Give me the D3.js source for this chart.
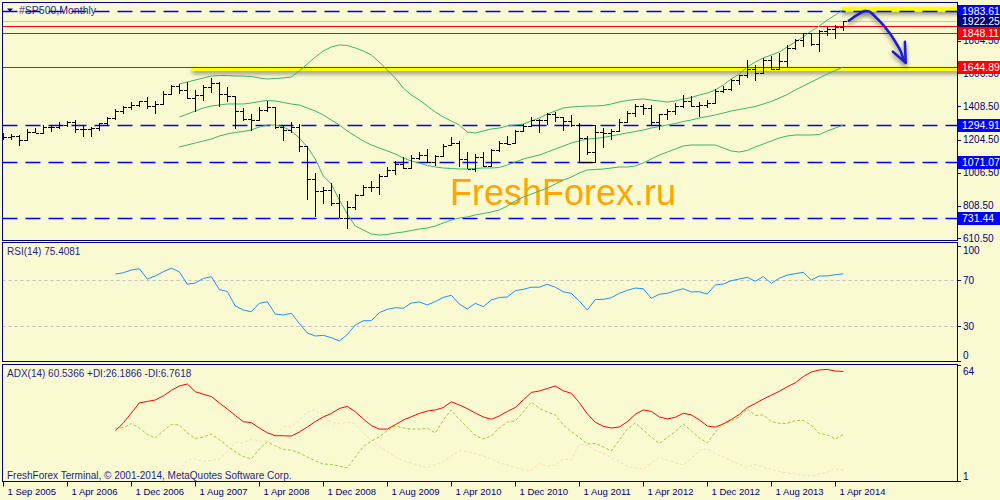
<!DOCTYPE html>
<html><head><meta charset="utf-8">
<script src="https://cdn.jsdelivr.net/npm/d3@7"></script>
<style>
body{margin:0;background:#FAFAD2;}
svg{display:block;}
text{font-family:"Liberation Sans",Arial,sans-serif;}
</style></head><body>
<svg id="c" width="1000" height="500"></svg>
<script>
// ---------------- DATA ----------------
const title = "#SP500,Monthly";
// monthly bars, index 0 = Aug 2005 ... index 105 = May 2014
const opens  = [1234.2,1220.3,1228.8,1207.0,1249.5,1248.3,1280.1,1280.7,1294.9,1310.6,1270.1,1270.2,1276.7,1303.8,1335.9,1377.9,1400.6,1418.3,1438.2,1406.8,1420.9,1482.4,1530.6,1503.4,1455.3,1474.0,1526.8,1549.4,1481.1,1468.4,1378.6,1330.6,1326.4,1385.6,1400.4,1280.0,1267.4,1282.8,1166.4,968.8,896.2,903.3,825.9,735.1,797.9,872.8,919.1,919.3,987.5,1020.6,1057.1,1036.2,1095.6,1115.1,1073.9,1104.5,1171.2,1186.7,1089.4,1030.7,1101.6,1049.3,1141.2,1183.3,1186.6,1257.6,1286.1,1327.2,1325.8,1363.6,1345.2,1320.6,1292.3,1218.9,1131.4,1253.3,1247.0,1258.9,1312.4,1365.7,1408.5,1397.9,1310.3,1362.2,1379.3,1406.6,1440.7,1412.2,1416.2,1426.2,1498.1,1514.7,1569.2,1597.6,1630.7,1606.3,1685.7,1633.0,1681.6,1756.5,1805.8,1848.4,1782.6,1859.5,1872.3,1884.0];
const highs  = [1245.9,1243.1,1233.3,1270.6,1275.8,1294.9,1297.6,1310.9,1318.2,1326.7,1290.7,1280.4,1306.7,1340.3,1389.5,1407.9,1431.8,1441.6,1461.6,1438.9,1498.0,1535.6,1540.6,1555.9,1503.9,1538.7,1576.1,1552.8,1523.6,1471.8,1396.0,1359.7,1404.0,1440.2,1404.1,1292.2,1313.2,1303.0,1167.0,1007.5,919.0,943.9,877.9,833.0,875.4,930.2,956.2,996.7,1039.5,1080.2,1101.4,1113.7,1130.4,1150.5,1112.4,1180.2,1219.8,1200.0,1131.2,1121.0,1129.2,1150.0,1196.1,1227.1,1262.6,1302.7,1344.1,1332.3,1364.6,1370.6,1345.2,1356.5,1307.4,1229.3,1292.7,1277.6,1269.4,1333.5,1378.0,1419.2,1422.4,1415.3,1363.5,1391.7,1426.7,1474.5,1471.0,1434.3,1448.0,1509.9,1530.9,1570.3,1597.6,1687.2,1654.2,1698.8,1709.7,1729.9,1775.2,1813.6,1849.4,1850.8,1867.9,1884.0,1897.3,1924.0];
const lows   = [1201.1,1205.4,1168.2,1201.1,1246.6,1245.7,1253.6,1268.0,1280.7,1245.3,1219.3,1224.5,1261.3,1290.9,1327.1,1360.9,1385.9,1404.0,1389.4,1364.0,1416.4,1476.7,1484.2,1454.3,1370.6,1439.3,1489.6,1406.1,1435.7,1270.1,1316.8,1257.0,1324.4,1373.1,1272.0,1200.4,1248.6,1133.5,839.8,741.0,815.7,804.2,734.5,666.8,783.9,866.1,888.9,869.3,978.5,992.0,1029.4,1029.4,1085.9,1071.6,1044.5,1101.4,1170.7,1040.8,1028.3,1010.9,1039.7,1048.1,1131.9,1173.0,1186.6,1257.6,1282.9,1249.1,1294.7,1311.8,1258.1,1282.9,1101.5,1114.2,1074.8,1158.7,1202.4,1258.9,1312.4,1340.0,1357.4,1292.0,1266.7,1325.4,1354.7,1396.6,1403.3,1343.4,1398.1,1426.2,1485.0,1501.5,1536.0,1581.3,1560.3,1604.6,1627.5,1633.4,1646.5,1746.2,1768.0,1770.4,1737.9,1834.4,1814.4,1859.8];
const closes = [1220.3,1228.8,1207.0,1249.5,1248.3,1280.1,1280.7,1294.9,1310.6,1270.1,1270.2,1276.7,1303.8,1335.9,1377.9,1400.6,1418.3,1438.2,1406.8,1420.9,1482.4,1530.6,1503.4,1455.3,1474.0,1526.8,1549.4,1481.1,1468.4,1378.6,1330.6,1322.7,1385.6,1400.4,1280.0,1267.4,1282.8,1166.4,968.8,896.2,903.3,825.9,735.1,797.9,872.8,919.1,919.3,987.5,1020.6,1057.1,1036.2,1095.6,1115.1,1073.9,1104.5,1169.4,1186.7,1089.4,1030.7,1101.6,1049.3,1141.2,1183.3,1180.6,1257.6,1286.1,1327.2,1325.8,1363.6,1345.2,1320.6,1292.3,1218.9,1131.4,1253.3,1247.0,1257.6,1312.4,1365.7,1408.5,1397.9,1310.3,1362.2,1379.3,1406.6,1440.7,1412.2,1416.2,1426.2,1498.1,1514.7,1569.2,1597.6,1630.7,1606.3,1685.7,1633.0,1681.6,1756.5,1805.8,1848.4,1782.6,1859.5,1872.3,1884.0,1922.25];

// Bollinger bands, first value at bar 22
const bbStart = 22;
const bbUpper  = [1542.1,1554.1,1566.2,1578.3,1590.4,1593.4,1593.4,1590.4,1590.4,1587.3,1578.3,1572.3,1575.3,1578.3,1584.4,1620.5,1662.8,1705.0,1741.3,1765.4,1777.5,1774.5,1759.4,1741.3,1717.1,1674.9,1626.6,1578.3,1518.0,1475.7,1445.5,1409.3,1373.1,1342.9,1318.7,1294.6,1252.4,1246.3,1258.4,1270.5,1276.5,1288.6,1294.6,1300.6,1318.7,1336.9,1361.0,1379.1,1397.2,1403.2,1406.3,1409.3,1409.3,1412.3,1421.4,1433.4,1442.5,1448.5,1451.5,1445.5,1439.5,1433.4,1439.5,1451.5,1460.6,1475.7,1487.8,1505.9,1536.0,1572.3,1602.4,1644.7,1674.9,1699.0,1717.1,1735.2,1765.4,1795.6,1825.8,1862.0,1892.2,1928.4,1958.6,1988.7];
const bbMiddle = [1342.9,1361.0,1379.1,1397.2,1409.3,1415.3,1421.4,1421.4,1421.4,1427.4,1436.4,1442.5,1439.5,1430.4,1421.4,1415.3,1397.2,1379.1,1355.0,1324.8,1294.6,1258.4,1228.2,1198.0,1173.9,1155.8,1137.7,1119.6,1095.4,1077.3,1065.2,1050.2,1041.1,1035.1,1032.0,1029.0,1029.0,1032.0,1035.1,1035.1,1038.1,1053.2,1071.3,1089.4,1101.4,1113.5,1131.6,1149.7,1167.8,1185.9,1198.0,1210.1,1213.1,1219.1,1228.2,1237.3,1246.3,1255.4,1264.4,1276.5,1285.5,1294.6,1303.7,1315.7,1324.8,1336.9,1345.9,1355.0,1367.0,1379.1,1388.2,1397.2,1406.3,1421.4,1436.4,1457.6,1478.7,1505.9,1530.0,1554.1,1578.3,1602.4,1623.6,1644.7];
const bbLower  = [1161.8,1173.9,1186.0,1198.0,1210.1,1228.2,1240.3,1249.3,1255.4,1264.4,1282.5,1294.6,1294.6,1282.5,1258.4,1216.1,1161.8,1089.4,986.8,938.5,841.9,757.4,685.0,660.8,636.7,630.6,633.7,642.7,648.8,657.8,666.8,672.9,685.0,703.1,721.2,733.3,739.3,751.4,760.4,769.5,781.5,805.7,835.9,860.0,878.1,896.2,914.3,938.5,962.6,980.7,1004.9,1023.0,1026.0,1029.0,1035.1,1041.1,1041.1,1047.1,1065.2,1089.4,1113.5,1131.6,1149.7,1167.8,1173.9,1173.9,1173.9,1173.9,1155.8,1137.7,1131.6,1140.7,1161.8,1179.9,1198.0,1216.1,1228.2,1234.2,1234.2,1234.2,1237.3,1258.4,1276.5,1294.6];

// RSI(14), first value at bar 14
const rsiStart = 14;
const rsiValues = [75.2,76.3,78.7,79.8,70.9,73.5,77.2,80.2,77.2,66.3,67.4,71.3,72.9,61.7,60.0,47.4,43.9,42.4,49.7,51.1,40.4,39.6,41.0,32.3,23.9,21.3,21.9,19.8,17.0,22.6,30.9,34.6,34.6,41.6,44.5,45.9,45.4,50.0,50.9,48.3,51.3,54.8,56.7,49.1,44.8,49.7,46.8,52.6,54.8,55.2,60.7,61.9,63.7,63.7,66.3,63.7,59.8,58.4,51.7,43.9,53.0,53.2,54.6,58.4,61.0,63.0,62.4,54.1,57.6,58.4,60.7,62.4,59.6,59.8,57.8,65.7,66.5,69.4,70.9,72.3,68.9,72.9,67.1,71.5,74.3,75.5,76.7,70.0,73.5,73.5,74.6,75.4];
const rsiLevels = [70, 30];
const rsiTicks = [100, 70, 30, 0];

// ADX(14), first value at bar 14
const adxStart = 14;
const adxValues = [28.2,32.5,37.9,43.4,44.2,45.0,47.2,50.2,52.6,53.7,49.5,48.1,46.9,43.4,40.1,36.6,33.2,32.7,29.8,27.2,25.6,25.6,25.4,27.6,30.3,33.3,35.8,37.7,40.4,41.5,38.6,34.7,31.1,29.2,29.2,31.6,34.1,35.9,37.7,39.0,39.6,40.9,44.0,42.3,40.3,37.9,35.8,34.5,36.3,38.8,40.9,45.0,49.1,49.9,51.2,52.6,50.0,48.6,43.6,37.5,32.9,30.7,29.8,30.3,33.2,37.2,39.6,38.8,35.8,34.7,35.6,37.8,36.9,34.2,30.9,30.2,32.0,34.4,37.2,40.9,43.1,45.5,47.6,49.7,52.2,54.3,57.7,60.2,61.3,61.6,60.7,60.5];
const plusDI   = [29.6,30.0,32.2,29.8,26.3,24.4,28.3,31.7,31.4,27.1,24.1,24.9,26.5,23.5,20.0,16.8,14.3,13.0,18.4,22.2,20.0,18.1,17.8,16.2,14.0,11.9,10.2,10.0,9.1,8.1,14.0,19.7,22.7,24.9,28.4,30.9,29.8,29.2,29.2,29.6,27.1,34.1,39.6,34.4,30.1,25.7,23.8,25.4,29.8,33.0,33.6,38.5,43.9,40.4,38.5,36.9,31.4,27.9,24.6,21.1,21.4,19.5,17.3,23.3,29.2,32.5,28.7,24.9,21.4,24.6,27.9,32.0,28.2,24.4,21.6,27.6,32.0,33.6,35.8,40.1,36.6,36.9,33.3,32.3,32.3,33.9,33.9,31.4,26.8,26.0,23.8,26.2];
const minusDI  = [5.3,5.3,4.8,4.8,5.9,6.4,5.9,4.8,6.4,12.4,13.0,11.6,12.1,13.0,16.8,22.2,21.6,23.8,22.7,22.7,25.4,30.6,30.3,34.1,38.5,39.6,36.3,33.0,32.0,33.0,32.0,27.1,23.3,20.0,16.8,14.0,11.9,10.8,9.4,8.3,10.0,11.6,14.6,17.5,17.0,15.9,14.6,13.2,10.8,9.7,8.3,7.2,6.7,10.5,8.9,9.7,13.0,12.4,21.1,20.3,17.8,15.9,13.8,11.6,8.9,8.1,7.4,10.8,13.8,12.4,11.0,9.7,13.0,17.8,18.4,15.9,14.0,11.9,10.2,8.3,10.0,8.6,7.2,6.2,5.3,4.8,4.3,3.7,4.8,5.6,7.8,6.8];
const adxTicks = [64, 1];

// price axis
const priceTicks = [1804.5, 1606.5, 1408.5, 1204.5, 1006.5, 808.5, 610.5];
const blueLevels = [1983.61, 1294.91, 1071.07, 731.44];
const redLevels  = [1891.60, 1848.11, 1644.89];
const bidPrice   = 1922.25;
// time axis labels: [bar index, text]
const timeTicks = [[0,"1 Sep 2005"],[8,"1 Apr 2006"],[16,"1 Dec 2006"],[24,"1 Aug 2007"],[32,"1 Apr 2008"],[40,"1 Dec 2008"],[48,"1 Aug 2009"],[56,"1 Apr 2010"],[64,"1 Dec 2010"],[72,"1 Aug 2011"],[80,"1 Apr 2012"],[88,"1 Dec 2012"],[96,"1 Aug 2013"],[104,"1 Apr 2014"]];

// analyst drawings in chart coordinates [bar, price]
const supportBand = {from: 23.6, to: 125, price: 1644.89};
const topBand = {from: 104.8, to: 125, price: 1995};
const boxRect = {from: 72, to: 74, top: 1294.91, bottom: 1071.07};
const arrowPath = [[105.7,1924],[106.7,1958],[107.7,1982],[108.3,1978],[109.2,1938],[110.0,1898],[110.8,1848],[111.5,1797],[112.1,1747],[112.5,1697],[112.8,1671]];
const arrowHead = [[111.2,1737],[112.8,1671],[112.7,1797]];

// ---------------- DRAW ----------------
const svg = d3.select("#c");
const BG = "#FAFAD2", NAVY = "#000080";
const L = 2.5, R = 957.5;
const P = {main:[2.5,240.5], rsi:[242.5,361.5], adx:[364.5,481.5]};

const x = d3.scaleLinear().domain([0,105]).range([3.3, 843.3]);
const y = d3.scaleLinear().domain([594.4, 2031.0]).range([241, 3]);
const yR = d3.scaleLinear().domain([0,100]).range([360.5,245.5]);
const yA = d3.scaleLinear().domain([1,64]).range([481,365]);

svg.append("rect").attr("width",1000).attr("height",500).attr("fill",BG);
const defs = svg.append("defs");
Object.entries(P).forEach(([k,[t,b]])=>{
  defs.append("clipPath").attr("id","clip-"+k).append("rect")
    .attr("x",L+0.5).attr("y",t+0.5).attr("width",R-L-1).attr("height",b-t-1);
});
const sh = defs.append("filter").attr("id","shadow").attr("filterUnits","userSpaceOnUse")
  .attr("x",0).attr("y",0).attr("width",1000).attr("height",260);
sh.append("feGaussianBlur").attr("in","SourceAlpha").attr("stdDeviation",2).attr("result","b");
sh.append("feOffset").attr("in","b").attr("dy",3).attr("result","o");
sh.append("feComponentTransfer").attr("in","o").attr("result","s")
  .append("feFuncA").attr("type","linear").attr("slope",0.45);
const fm = sh.append("feMerge");
fm.append("feMergeNode").attr("in","s");
fm.append("feMergeNode").attr("in","SourceGraphic");

// ---- main panel ----
const gm = svg.append("g").attr("clip-path","url(#clip-main)");

// watermark
gm.append("text").attr("x",450).attr("y",205).text("FreshForex.ru")
  .attr("font-size",36).attr("fill","#FFA500");

// yellow highlight bands (under lines)
gm.append("line").attr("x1",x(supportBand.from)).attr("x2",x(supportBand.to))
  .attr("y1",y(supportBand.price)+1.7).attr("y2",y(supportBand.price)+1.7)
  .attr("stroke","#FFFF00").attr("stroke-width",4).attr("filter","url(#shadow)");
gm.append("line").attr("x1",x(topBand.from)).attr("x2",x(topBand.to))
  .attr("y1",y(topBand.price)).attr("y2",y(topBand.price))
  .attr("stroke","#FFFF00").attr("stroke-width",4.5).attr("filter","url(#shadow)");

// horizontal levels
gm.selectAll(".bl").data(blueLevels).join("line")
  .attr("x1",L).attr("x2",R).attr("y1",d=>Math.round(y(d))+0.5).attr("y2",d=>Math.round(y(d))+0.5)
  .attr("stroke","#0000FF").attr("stroke-width",1.3).attr("stroke-dasharray","15,8");
gm.append("line").attr("x1",L).attr("x2",R)
  .attr("y1",Math.round(y(bidPrice))+0.5).attr("y2",Math.round(y(bidPrice))+0.5)
  .attr("stroke","#C8C8C8").attr("stroke-width",1);
gm.selectAll(".rl").data(redLevels).join("line")
  .attr("x1",L).attr("x2",R).attr("y1",d=>Math.round(y(d))+0.5).attr("y2",d=>Math.round(y(d))+0.5)
  .attr("stroke","#FF0000").attr("stroke-width",1);

// rectangle object
gm.append("rect").attr("x",Math.round(x(boxRect.from))+0.5).attr("y",Math.round(y(boxRect.top))+0.5)
  .attr("width",x(boxRect.to)-x(boxRect.from)).attr("height",y(boxRect.bottom)-y(boxRect.top))
  .attr("fill","none").attr("stroke","#000").attr("stroke-width",1);

// Bollinger bands
const bbLine = d3.line().x((d,i)=>x(bbStart+i)).y(d=>y(d));
[bbUpper,bbMiddle,bbLower].forEach(arr=>{
  gm.append("path").attr("d",bbLine(arr)).attr("fill","none").attr("stroke","#3CB371").attr("stroke-width",1);
});

// OHLC bars
const bars = d3.range(closes.length);
const gb = gm.append("g").attr("stroke","#000").attr("stroke-width",1).attr("shape-rendering","crispEdges");
bars.forEach(i=>{
  const cx = Math.round(x(i))+0.5;
  gb.append("line").attr("x1",cx).attr("x2",cx).attr("y1",y(highs[i])).attr("y2",y(lows[i]));
  gb.append("line").attr("x1",cx-3.5).attr("x2",cx).attr("y1",Math.round(y(opens[i]))+0.5).attr("y2",Math.round(y(opens[i]))+0.5);
  gb.append("line").attr("x1",cx).attr("x2",cx+3.5).attr("y1",Math.round(y(closes[i]))+0.5).attr("y2",Math.round(y(closes[i]))+0.5);
});

// hand-drawn arrow
const arrLine = d3.line().x(d=>x(d[0])).y(d=>y(d[1])).curve(d3.curveCatmullRom);
const ga = gm.append("g").attr("filter","url(#shadow)");
ga.append("path").attr("d",arrLine(arrowPath)).attr("fill","none").attr("stroke","#1E1ED2").attr("stroke-width",2.6).attr("stroke-linecap","round");
ga.append("path").attr("d",d3.line().x(d=>x(d[0])).y(d=>y(d[1]))(arrowHead)).attr("fill","none").attr("stroke","#1E1ED2").attr("stroke-width",2.6).attr("stroke-linecap","round").attr("stroke-linejoin","round");

// title
svg.append("path").attr("d","M7,8.5 L13,8.5 L10,12 Z").attr("fill",NAVY);
svg.append("text").attr("x",19).attr("y",14).text(title).attr("font-size",10.5).attr("fill","#1E1E8C");

// ---- RSI panel ----
const gr = svg.append("g").attr("clip-path","url(#clip-rsi)");
gr.selectAll(".lv").data(rsiLevels).join("line")
  .attr("x1",L).attr("x2",R).attr("y1",d=>Math.round(yR(d))+0.5).attr("y2",d=>Math.round(yR(d))+0.5)
  .attr("stroke","#C0C0C0").attr("stroke-dasharray","3,3");
gr.append("path").attr("d",d3.line().x((d,i)=>x(rsiStart+i)).y(d=>yR(d))(rsiValues))
  .attr("fill","none").attr("stroke","#1E90FF").attr("stroke-width",1);
svg.append("text").attr("x",7).attr("y",255).text("RSI(14) 75.4081")
  .attr("font-size",10).attr("fill","#1E1E8C");

// ---- ADX panel ----
const gd = svg.append("g").attr("clip-path","url(#clip-adx)");
const aLine = d3.line().x((d,i)=>x(adxStart+i)).y(d=>yA(d));
gd.append("path").attr("d",aLine(minusDI)).attr("fill","none").attr("stroke","#FFDAB9").attr("stroke-width",1).attr("stroke-dasharray","3,2");
gd.append("path").attr("d",aLine(plusDI)).attr("fill","none").attr("stroke","#9ACD32").attr("stroke-width",1).attr("stroke-dasharray","3,2");
gd.append("path").attr("d",aLine(adxValues)).attr("fill","none").attr("stroke","#FF0000").attr("stroke-width",1);
svg.append("text").attr("x",7).attr("y",377).text("ADX(14) 60.5366 +DI:26.1866 -DI:6.7618")
  .attr("font-size",10).attr("fill","#1E1E8C");
svg.append("text").attr("x",7).attr("y",479).text("FreshForex Terminal, © 2001-2014, MetaQuotes Software Corp.")
  .attr("font-size",10).attr("fill","#1E1E8C");

// ---- frames ----
Object.values(P).forEach(([t,b])=>{
  svg.append("rect").attr("x",L).attr("y",t).attr("width",R-L).attr("height",b-t)
    .attr("fill","none").attr("stroke",NAVY).attr("stroke-width",1);
});

// ---- right axes ----
const ax = svg.append("g").attr("font-size",10).attr("fill",NAVY);
function tick(yy){ svg.append("line").attr("x1",R).attr("x2",R+3.5).attr("y1",Math.round(yy)+0.5).attr("y2",Math.round(yy)+0.5).attr("stroke",NAVY); }
priceTicks.forEach(v=>{ tick(y(v)); ax.append("text").attr("x",963).attr("y",y(v)).attr("dy","0.35em").text(v.toFixed(2)); });
rsiTicks.forEach(v=>{ tick(yR(v)); ax.append("text").attr("x",963).attr("y",Math.min(Math.max(yR(v),250),355)).attr("dy","0.35em").text(v); });
adxTicks.forEach(v=>{ tick(yA(v)); ax.append("text").attr("x",963).attr("y",Math.min(Math.max(yA(v),371),476)).attr("dy","0.35em").text(v); });

function label(v, bg){
  const yy = Math.round(y(v));
  svg.append("rect").attr("x",958).attr("y",yy-6).attr("width",42).attr("height",13).attr("fill",bg);
  svg.append("text").attr("x",962).attr("y",yy).attr("dy","0.36em").attr("font-size",10.5).attr("fill","#FFFFFF").text(v.toFixed(2));
}
blueLevels.forEach(v=>label(v,"#0000FF"));
label(redLevels[0],"#FF0000");
label(bidPrice,"#00007A");
label(redLevels[1],"#FF0000");
label(redLevels[2],"#FF0000");

// ---- time axis ----
const tg = svg.append("g").attr("font-size",9.5).attr("fill",NAVY);
timeTicks.forEach(([b,t])=>{
  const xx = Math.round(x(b))+0.5;
  svg.append("line").attr("x1",xx).attr("x2",xx).attr("y1",481.5).attr("y2",486.5).attr("stroke",NAVY);
  tg.append("text").attr("x",xx+4).attr("y",495).text(t);
});
</script>
</body></html>
